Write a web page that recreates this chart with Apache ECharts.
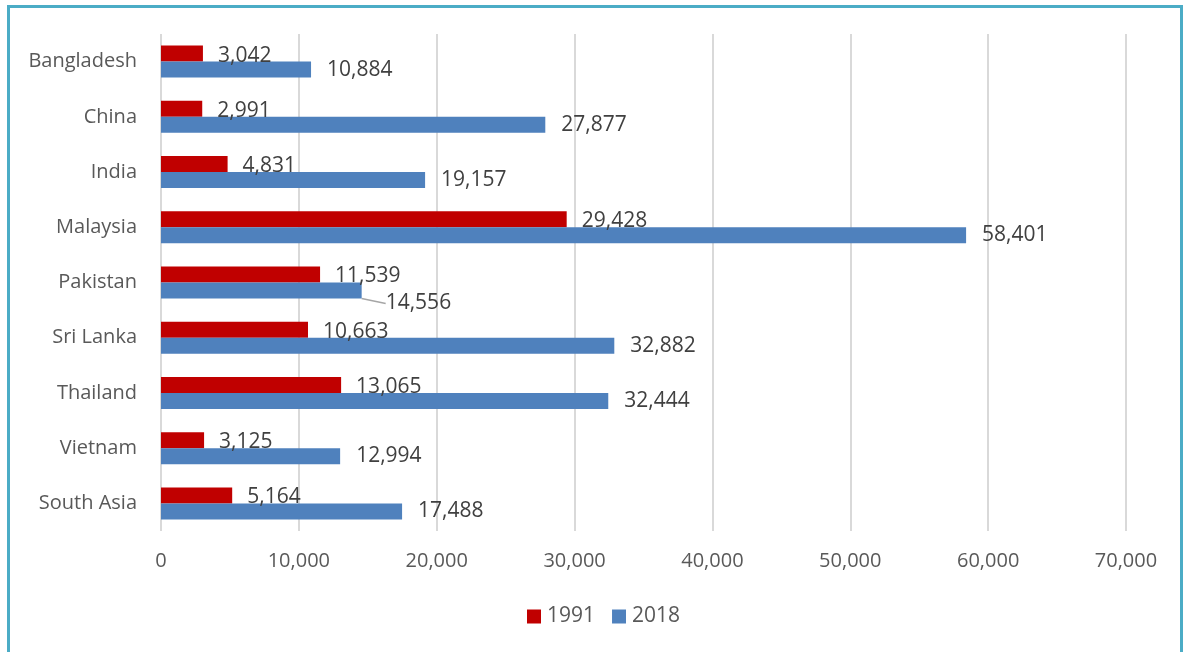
<!DOCTYPE html>
<html>
<head>
<meta charset="utf-8">
<script src="https://cdn.jsdelivr.net/npm/echarts@6/dist/echarts.min.js"></script>
<style>
html,body{margin:0;padding:0;background:#fff;}
#wrap{position:absolute;left:7px;top:5px;width:1176px;height:660px;border:3px solid #4BACC6;box-sizing:border-box;}
#chart{position:absolute;left:0;top:0;width:1188px;height:652px;}
</style>
</head>
<body>
<div id="wrap"></div>
<div id="chart"></div>
<script>
const categories = ['Bangladesh','China','India','Malaysia','Pakistan','Sri Lanka','Thailand','Vietnam','South Asia'];
const values1991 = [3042, 2991, 4831, 29428, 11539, 10663, 13065, 3125, 5164];
const values2018 = [10884, 27877, 19157, 58401, 14556, 32882, 32444, 12994, 17488];
const seriesNames = ['1991', '2018'];

const FONT = '"Open Sans", sans-serif';
const fmt = v => v.toLocaleString('en-US');
const chart = echarts.init(document.getElementById('chart'), null, {renderer:'canvas'});
chart.setOption({
  animation: false,
  textStyle: {fontFamily: FONT},
  grid: {left: 161, right: 62, top: 34, bottom: 121, containLabel: false},
  legend: {
    bottom: 20, left: 522,
    itemWidth: 14, itemHeight: 14, itemGap: 17,
    textStyle: {fontFamily: FONT, fontSize: 21, color: '#595959', padding:[0,0,0,1]},
    data: [{name: seriesNames[0], icon: 'rect'}, {name: seriesNames[1], icon: 'rect'}]
  },
  xAxis: {
    type: 'value', min: 0, max: 70000, interval: 10000,
    axisLine: {show: false}, axisTick: {show: false},
    splitLine: {show: true, lineStyle: {color: '#D9D9D9', width: 2}},
    axisLabel: {fontFamily: FONT, fontSize: 20, color: '#595959', margin: 20, formatter: v => fmt(v)}
  },
  yAxis: {
    type: 'category', data: categories, inverse: true,
    axisLine: {show: false}, axisTick: {show: false},
    axisLabel: {fontFamily: FONT, fontSize: 20, color: '#595959', margin: 24}
  },
  series: [
    {
      name: seriesNames[0], type: 'bar', data: values1991,
      barWidth: 16, barGap: '0%',
      itemStyle: {color: '#C00000'},
      label: {show: true, position: 'right', distance: 15, offset:[0,2], fontFamily: FONT, fontSize: 21, color: '#404040', formatter: p => fmt(p.value)}
    },
    {
      name: seriesNames[1], type: 'bar',
      data: values2018.map((v, i) => i === 4 ? {value: v, labelLine: {show: true}} : v),
      barWidth: 16, barGap: '0%',
      itemStyle: {color: '#4F81BD'},
      label: {show: true, position: 'right', distance: 16, offset:[0,2], fontFamily: FONT, fontSize: 21, color: '#404040', formatter: p => fmt(p.value)},
      labelLine: {lineStyle: {color: '#A6A6A6', width: 1.5}},
      labelLayout: p => p.dataIndex === 4 ? {dx: 8, dy: 13} : {}
    }
  ]
});
</script>
</body>
</html>
